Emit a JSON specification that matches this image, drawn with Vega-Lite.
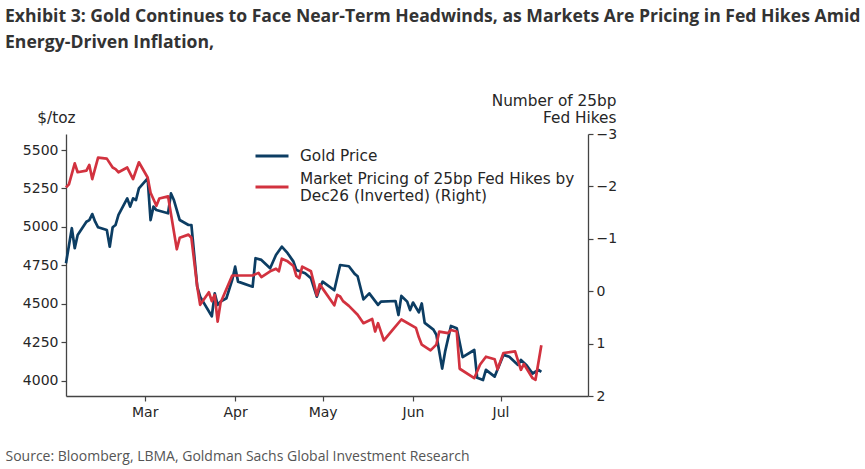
{
  "$schema": "https://vega.github.io/schema/vega-lite/v6.json",
  "width": 522,
  "height": 262,
  "autosize": {"type": "none"},
  "padding": {"left": 66, "top": 134, "right": 277, "bottom": 73},
  "background": "white",
  "title": {
    "text": ["Exhibit 3: Gold Continues to Face Near-Term Headwinds, as Markets Are Pricing in Fed Hikes Amid", "Energy-Driven Inflation,"],
    "anchor": "start",
    "frame": "group",
    "dx": -61,
    "dy": -21,
    "font": "Open Sans",
    "fontSize": 17.6,
    "fontWeight": "bold",
    "color": "#333333",
    "lineHeight": 26,
    "offset": 20
  },
  "config": {
    "view": {"stroke": null},
    "axis": {
      "labelFont": "DejaVu Sans",
      "labelFontSize": 14,
      "labelColor": "#262626",
      "domainColor": "#444444",
      "domainWidth": 1.3,
      "tickColor": "#444444",
      "tickWidth": 1.2,
      "tickSize": 5,
      "labelPadding": 3,
      "grid": false,
      "titleFont": "DejaVu Sans",
      "titleFontSize": 15.3,
      "titleFontWeight": "normal",
      "titleColor": "#262626"
    },
    "legend": {
      "labelFont": "DejaVu Sans",
      "labelFontSize": 15.3,
      "labelColor": "#262626"
    }
  },
  "datasets": {
    "gold": [
      {"date": "2026-02-02", "price": 4765},
      {"date": "2026-02-04", "price": 4992},
      {"date": "2026-02-05", "price": 4862},
      {"date": "2026-02-06", "price": 4948},
      {"date": "2026-02-09", "price": 5034},
      {"date": "2026-02-10", "price": 5045},
      {"date": "2026-02-11", "price": 5084},
      {"date": "2026-02-12", "price": 5034},
      {"date": "2026-02-13", "price": 4998},
      {"date": "2026-02-16", "price": 4980},
      {"date": "2026-02-17", "price": 4872},
      {"date": "2026-02-18", "price": 4998},
      {"date": "2026-02-19", "price": 5013},
      {"date": "2026-02-20", "price": 5078},
      {"date": "2026-02-23", "price": 5186},
      {"date": "2026-02-24", "price": 5132},
      {"date": "2026-02-25", "price": 5186},
      {"date": "2026-02-26", "price": 5175},
      {"date": "2026-02-27", "price": 5251},
      {"date": "2026-03-02", "price": 5316},
      {"date": "2026-03-03", "price": 5045},
      {"date": "2026-03-04", "price": 5132},
      {"date": "2026-03-05", "price": 5110},
      {"date": "2026-03-09", "price": 5089},
      {"date": "2026-03-10", "price": 5218},
      {"date": "2026-03-11", "price": 5175},
      {"date": "2026-03-13", "price": 5045},
      {"date": "2026-03-16", "price": 5013},
      {"date": "2026-03-17", "price": 5013},
      {"date": "2026-03-19", "price": 4612},
      {"date": "2026-03-20", "price": 4547},
      {"date": "2026-03-21", "price": 4515},
      {"date": "2026-03-24", "price": 4420},
      {"date": "2026-03-25", "price": 4569},
      {"date": "2026-03-26", "price": 4494},
      {"date": "2026-03-27", "price": 4515},
      {"date": "2026-03-29", "price": 4537},
      {"date": "2026-03-31", "price": 4656},
      {"date": "2026-04-01", "price": 4742},
      {"date": "2026-04-02", "price": 4645},
      {"date": "2026-04-07", "price": 4612},
      {"date": "2026-04-08", "price": 4797},
      {"date": "2026-04-10", "price": 4786},
      {"date": "2026-04-13", "price": 4732},
      {"date": "2026-04-15", "price": 4818},
      {"date": "2026-04-17", "price": 4872},
      {"date": "2026-04-19", "price": 4830},
      {"date": "2026-04-21", "price": 4775},
      {"date": "2026-04-22", "price": 4721},
      {"date": "2026-04-25", "price": 4699},
      {"date": "2026-04-27", "price": 4667},
      {"date": "2026-04-29", "price": 4547},
      {"date": "2026-04-30", "price": 4602},
      {"date": "2026-05-01", "price": 4645},
      {"date": "2026-05-05", "price": 4589},
      {"date": "2026-05-07", "price": 4753},
      {"date": "2026-05-10", "price": 4745},
      {"date": "2026-05-12", "price": 4695},
      {"date": "2026-05-13", "price": 4680},
      {"date": "2026-05-15", "price": 4530},
      {"date": "2026-05-17", "price": 4569},
      {"date": "2026-05-20", "price": 4494},
      {"date": "2026-05-21", "price": 4515},
      {"date": "2026-05-26", "price": 4519},
      {"date": "2026-05-27", "price": 4428},
      {"date": "2026-05-28", "price": 4552},
      {"date": "2026-05-30", "price": 4515},
      {"date": "2026-05-31", "price": 4460},
      {"date": "2026-06-01", "price": 4509},
      {"date": "2026-06-03", "price": 4445},
      {"date": "2026-06-04", "price": 4503},
      {"date": "2026-06-05", "price": 4377},
      {"date": "2026-06-08", "price": 4333},
      {"date": "2026-06-09", "price": 4300},
      {"date": "2026-06-11", "price": 4080},
      {"date": "2026-06-12", "price": 4190},
      {"date": "2026-06-14", "price": 4357},
      {"date": "2026-06-16", "price": 4342},
      {"date": "2026-06-18", "price": 4155},
      {"date": "2026-06-22", "price": 4201},
      {"date": "2026-06-23", "price": 4020},
      {"date": "2026-06-25", "price": 4006},
      {"date": "2026-06-26", "price": 4072},
      {"date": "2026-06-29", "price": 4028},
      {"date": "2026-07-02", "price": 4169},
      {"date": "2026-07-04", "price": 4157},
      {"date": "2026-07-07", "price": 4104},
      {"date": "2026-07-08", "price": 4136},
      {"date": "2026-07-10", "price": 4100},
      {"date": "2026-07-12", "price": 4048},
      {"date": "2026-07-14", "price": 4071},
      {"date": "2026-07-15", "price": 4058}
    ],
    "hikes": [
      {"date": "2026-02-02", "hikes": -1.98},
      {"date": "2026-02-03", "hikes": -2.04},
      {"date": "2026-02-05", "hikes": -2.44},
      {"date": "2026-02-06", "hikes": -2.27},
      {"date": "2026-02-09", "hikes": -2.30},
      {"date": "2026-02-10", "hikes": -2.41},
      {"date": "2026-02-11", "hikes": -2.14},
      {"date": "2026-02-13", "hikes": -2.55},
      {"date": "2026-02-16", "hikes": -2.53},
      {"date": "2026-02-18", "hikes": -2.36},
      {"date": "2026-02-19", "hikes": -2.33},
      {"date": "2026-02-20", "hikes": -2.27},
      {"date": "2026-02-23", "hikes": -2.36},
      {"date": "2026-02-25", "hikes": -2.14},
      {"date": "2026-02-27", "hikes": -2.46},
      {"date": "2026-03-02", "hikes": -2.17},
      {"date": "2026-03-03", "hikes": -1.88},
      {"date": "2026-03-05", "hikes": -1.63},
      {"date": "2026-03-06", "hikes": -1.77},
      {"date": "2026-03-09", "hikes": -1.81},
      {"date": "2026-03-12", "hikes": -0.80},
      {"date": "2026-03-13", "hikes": -1.02},
      {"date": "2026-03-16", "hikes": -1.08},
      {"date": "2026-03-17", "hikes": -1.02},
      {"date": "2026-03-19", "hikes": -0.09},
      {"date": "2026-03-20", "hikes": 0.26},
      {"date": "2026-03-23", "hikes": 0.02},
      {"date": "2026-03-24", "hikes": 0.19},
      {"date": "2026-03-25", "hikes": 0.07},
      {"date": "2026-03-26", "hikes": 0.58},
      {"date": "2026-03-27", "hikes": 0.22},
      {"date": "2026-03-31", "hikes": -0.30},
      {"date": "2026-04-07", "hikes": -0.30},
      {"date": "2026-04-09", "hikes": -0.35},
      {"date": "2026-04-10", "hikes": -0.27},
      {"date": "2026-04-13", "hikes": -0.38},
      {"date": "2026-04-15", "hikes": -0.43},
      {"date": "2026-04-16", "hikes": -0.38},
      {"date": "2026-04-17", "hikes": -0.62},
      {"date": "2026-04-19", "hikes": -0.57},
      {"date": "2026-04-21", "hikes": -0.48},
      {"date": "2026-04-22", "hikes": -0.29},
      {"date": "2026-04-23", "hikes": -0.25},
      {"date": "2026-04-24", "hikes": -0.47},
      {"date": "2026-04-27", "hikes": -0.38},
      {"date": "2026-04-28", "hikes": -0.16},
      {"date": "2026-04-29", "hikes": 0.08},
      {"date": "2026-04-30", "hikes": -0.13},
      {"date": "2026-05-05", "hikes": 0.27},
      {"date": "2026-05-06", "hikes": 0.07},
      {"date": "2026-05-07", "hikes": 0.10},
      {"date": "2026-05-08", "hikes": 0.19},
      {"date": "2026-05-10", "hikes": 0.28},
      {"date": "2026-05-13", "hikes": 0.45},
      {"date": "2026-05-15", "hikes": 0.61},
      {"date": "2026-05-18", "hikes": 0.53},
      {"date": "2026-05-19", "hikes": 0.77},
      {"date": "2026-05-20", "hikes": 0.61},
      {"date": "2026-05-22", "hikes": 0.94},
      {"date": "2026-05-25", "hikes": 0.74},
      {"date": "2026-05-28", "hikes": 0.54},
      {"date": "2026-06-02", "hikes": 0.70},
      {"date": "2026-06-03", "hikes": 0.88},
      {"date": "2026-06-04", "hikes": 1.02},
      {"date": "2026-06-07", "hikes": 1.13},
      {"date": "2026-06-09", "hikes": 1.02},
      {"date": "2026-06-10", "hikes": 0.77},
      {"date": "2026-06-13", "hikes": 0.80},
      {"date": "2026-06-14", "hikes": 0.74},
      {"date": "2026-06-16", "hikes": 0.77},
      {"date": "2026-06-17", "hikes": 1.48},
      {"date": "2026-06-22", "hikes": 1.66},
      {"date": "2026-06-24", "hikes": 1.40},
      {"date": "2026-06-26", "hikes": 1.25},
      {"date": "2026-06-29", "hikes": 1.30},
      {"date": "2026-06-30", "hikes": 1.49},
      {"date": "2026-07-02", "hikes": 1.18},
      {"date": "2026-07-06", "hikes": 1.15},
      {"date": "2026-07-08", "hikes": 1.50},
      {"date": "2026-07-09", "hikes": 1.39},
      {"date": "2026-07-12", "hikes": 1.66},
      {"date": "2026-07-13", "hikes": 1.69},
      {"date": "2026-07-15", "hikes": 1.03}
    ]
  },
  "layer": [
    {
      "data": {"name": "gold"},
      "mark": {"type": "line", "strokeWidth": 2.7, "strokeJoin": "round"},
      "encoding": {
        "x": {
          "field": "date",
          "type": "temporal",
          "scale": {"domain": [{"year": 2026, "month": 2, "date": 2, "utc": true}, {"year": 2026, "month": 7, "date": 31, "utc": true}]},
          "axis": {
            "format": "%b",
            "tickCount": {"interval": "month", "step": 1},
            "labelAlign": "center",
            "labelPadding": 4,
            "title": "Source: Bloomberg, LBMA, Goldman Sachs Global Investment Research",
            "titleFont": "Open Sans",
            "titleFontSize": 14,
            "titleColor": "#555555",
            "titleAlign": "left",
            "titleAnchor": "start",
            "titleX": -61,
            "titleY": 64,
            "titleBaseline": "alphabetic"
          }
        },
        "y": {
          "field": "price",
          "type": "quantitative",
          "scale": {"domain": [3902, 5604], "nice": false, "zero": false},
          "axis": {
            "values": [4000, 4250, 4500, 4750, 5000, 5250, 5500],
            "format": "d",
            "title": "$/toz",
            "titleAngle": 0,
            "titleAlign": "center",
            "titleBaseline": "alphabetic",
            "titleX": -10,
            "titleY": -12
          }
        },
        "color": {
          "datum": "Gold Price",
          "type": "nominal",
          "scale": {
            "domain": ["Gold Price", "Market Pricing of 25bp Fed Hikes by Dec26 (Inverted) (Right)"],
            "range": ["#0c3d63", "#d2323f"]
          },
          "legend": {
            "title": null,
            "orient": "none",
            "legendX": 188,
            "legendY": 4,
            "symbolType": "stroke",
            "symbolSize": 1089,
            "symbolStrokeWidth": 3,
            "labelOffset": 10,
            "labelLimit": 400,
            "rowPadding": 4,
            "padding": 0,
            "labelExpr": "datum.label == 'Gold Price' ? datum.label : ['Market Pricing of 25bp Fed Hikes by', 'Dec26 (Inverted) (Right)']",
            "encode": {
              "labels": {
                "update": {
                  "lineHeight": {"value": 17},
                  "dy": {"signal": "datum.value === 'Gold Price' ? 0 : -8.5"}
                }
              }
            }
          }
        }
      }
    },
    {
      "data": {"name": "hikes"},
      "mark": {"type": "line", "strokeWidth": 2.7, "strokeJoin": "round"},
      "encoding": {
        "x": {"field": "date", "type": "temporal"},
        "y": {
          "field": "hikes",
          "type": "quantitative",
          "scale": {"domain": [-3, 2], "reverse": true, "nice": false, "zero": false},
          "axis": {
            "orient": "right",
            "values": [-3, -2, -1, 0, 1, 2],
            "format": "d",
            "title": ["Number of 25bp", "Fed Hikes"],
            "titleAngle": 0,
            "titleAlign": "right",
            "titleBaseline": "alphabetic",
            "titleLineHeight": 17,
            "titleX": 28,
            "titleY": -29
          }
        },
        "color": {"datum": "Market Pricing of 25bp Fed Hikes by Dec26 (Inverted) (Right)", "type": "nominal"}
      }
    }
  ],
  "resolve": {"scale": {"y": "independent"}}
}
